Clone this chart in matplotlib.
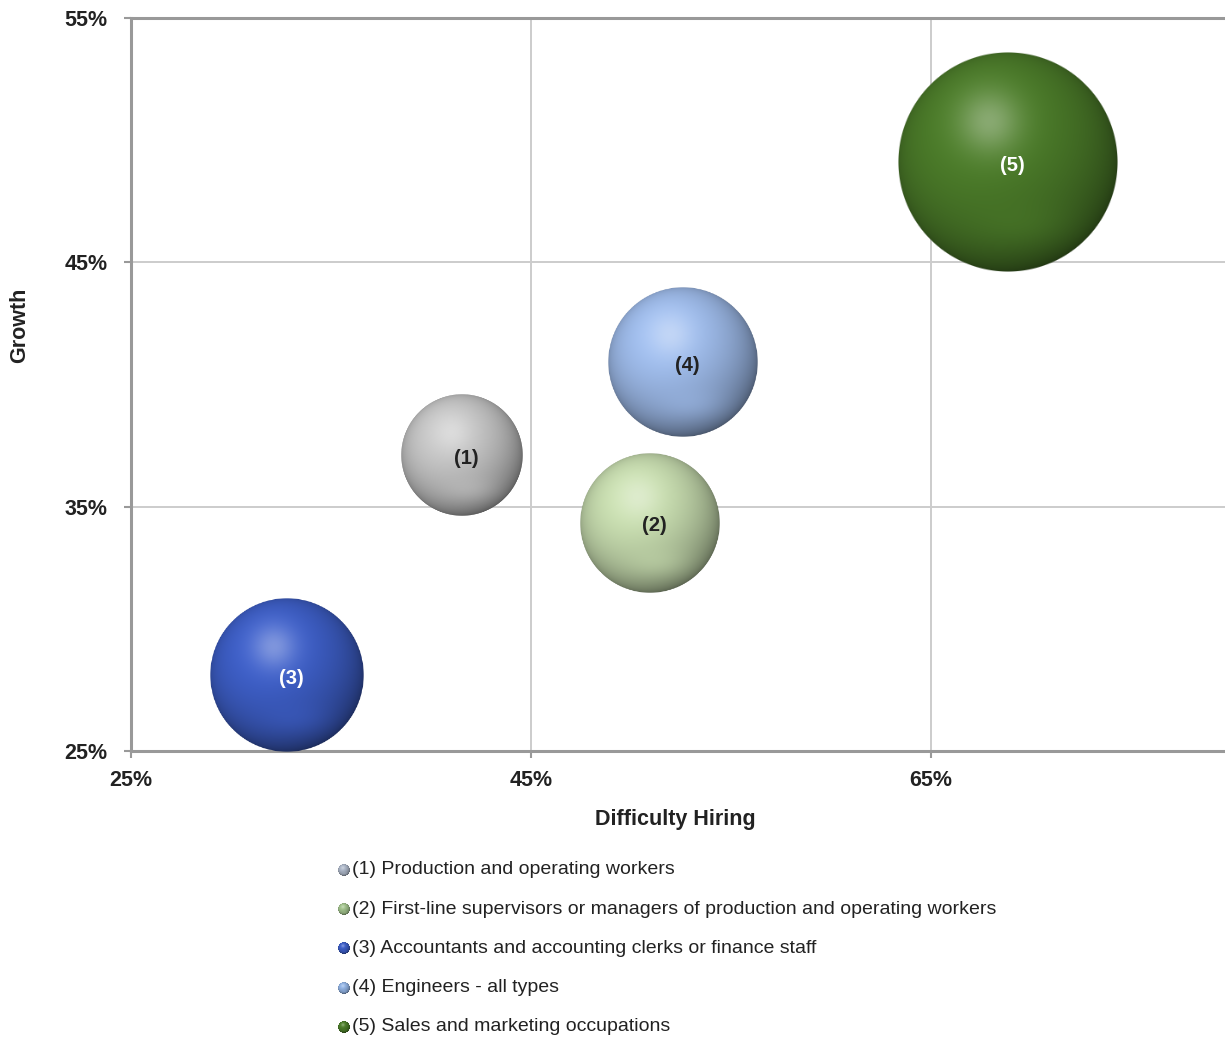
import numpy as np
import matplotlib
matplotlib.use("Agg")
import matplotlib.pyplot as plt
from matplotlib.offsetbox import OffsetImage, AnnotationBbox
from matplotlib.ticker import FuncFormatter, FixedLocator

plt.rcParams['font.family'] = ['Liberation Sans', 'DejaVu Sans']

# ---------------- data ----------------
categories = [
    "(1) Production and operating workers",
    "(2) First-line supervisors or managers of production and operating workers",
    "(3) Accountants and accounting clerks or finance staff",
    "(4) Engineers - all types",
    "(5) Sales and marketing occupations",
]
point_labels = ["(1)", "(2)", "(3)", "(4)", "(5)"]
difficulty_hiring = [41.55, 50.95, 32.8, 52.6, 68.85]   # x, %
growth = [37.1, 34.35, 28.1, 40.9, 49.1]                 # y, %
bubble_size = [3.7, 4.9, 5.9, 5.6, 12.1]                 # relative bubble area
x_ticks = [25, 45, 65]
y_ticks = [25, 35, 45, 55]

# ---------------- style ----------------
base_colors = ["#c4c4c4", "#c6dbae", "#3d5ec6", "#9ebbea", "#4b7b29"]
legend_marker_colors = ["#a9b3c4", "#9fbf8a", "#3b5cc4", "#8fb0e0", "#4b7b29"]
label_colors = ["#222222", "#222222", "#ffffff", "#222222", "#ffffff"]
DPI = 100
W, H = 1225, 1038
AREA_TO_PX2 = 1000.0


def sphere_image(color, n=256):
    c = np.array(matplotlib.colors.to_rgb(color))
    lin = (np.arange(n) + 0.5) / n * 2 - 1
    u, v = np.meshgrid(lin, -lin)
    rr = np.sqrt(u ** 2 + v ** 2)
    z = np.sqrt(np.clip(1 - rr ** 2, 0, 1))
    L = np.array([-0.3, 0.45, 0.84])
    L = L / np.linalg.norm(L)
    d = u * L[0] + v * L[1] + z * L[2]
    shade = 0.66 + 0.4 * d
    rim = 0.78 + 0.22 * np.clip(z, 0, 1) ** 0.25
    col = c[None, None, :] * (shade * rim)[..., None]
    # specular highlight (tinted)
    hl = 1 - (1 - c) * 0.45
    hd2 = (u + 0.17) ** 2 + (v - 0.37) ** 2
    spec = 0.6 * np.exp(-hd2 / (2 * 0.2 ** 2))
    col = col + (hl[None, None, :] - col) * spec[..., None]
    # bottom reflection
    refl = 0.22 * np.exp(-((u - 0.1) / 0.45) ** 2 - ((v + 0.55) / 0.22) ** 2)
    col = col + (c[None, None, :] - col).clip(0) * refl[..., None] * 2
    col = np.clip(col, 0, 1)
    alpha = np.clip((1 - rr) * n / 2.0, 0, 1)
    return np.dstack([col, alpha])


fig = plt.figure(figsize=(W / DPI, H / DPI), dpi=DPI)
ax = fig.add_axes([131 / W, (H - 751) / H, (W - 131) / W, (751 - 18) / H])
ax.set_xlim(25, 25 + (W - 131) / 20.0)
ax.set_ylim(25, 55)

ax.xaxis.set_major_locator(FixedLocator(x_ticks))
ax.yaxis.set_major_locator(FixedLocator(y_ticks))
pct = FuncFormatter(lambda val, pos: f"{val:.0f}%")
ax.xaxis.set_major_formatter(pct)
ax.yaxis.set_major_formatter(pct)
ax.grid(True, color="#cccccc", linewidth=1.4, zorder=0)
ax.set_axisbelow(True)
for side in ["left", "bottom", "top"]:
    ax.spines[side].set_color("#999999")
    ax.spines[side].set_linewidth(2.2)
ax.spines["right"].set_visible(False)
ax.tick_params(axis="both", direction="out", length=5, width=1.5, color="#999999",
               labelsize=15.5, labelcolor="#222222")
ax.tick_params(axis="x", pad=9)
ax.tick_params(axis="y", pad=12)
for lab in ax.get_xticklabels() + ax.get_yticklabels():
    lab.set_fontweight("bold")

# bubbles
for x, y, s, col, lab, lc in zip(difficulty_hiring, growth, bubble_size, base_colors,
                                  point_labels, label_colors):
    r_px = np.sqrt(s * AREA_TO_PX2)
    img = sphere_image(col)
    oi = OffsetImage(img, zoom=(2 * r_px) / img.shape[0] * 72 / DPI, interpolation="bilinear")
    ab = AnnotationBbox(oi, (x, y), xycoords="data", frameon=False, pad=0,
                        box_alignment=(0.5, 0.5), zorder=3)
    ax.add_artist(ab)
    ax.text(x + 0.2, y - 0.12, lab, ha="center", va="center", fontsize=14.5,
            fontweight="bold", color=lc, zorder=4)

# axis titles
fig.text(675 / W, 1 - 820 / H, "Difficulty Hiring", ha="center", va="center",
         fontsize=15.5, fontweight="bold", color="#222222")
fig.text(20 / W, 1 - 325 / H, "Growth", ha="center", va="center", rotation=90,
         fontsize=15.5, fontweight="bold", color="#222222")

# legend
for i, (name, mc) in enumerate(zip(categories, legend_marker_colors)):
    ypix = H - (870 + i * 39.2)
    img = sphere_image(mc, n=64)
    oi = OffsetImage(img, zoom=12 / 64 * 72 / DPI, interpolation="bilinear")
    ab = AnnotationBbox(oi, (344 / W, ypix / H), xycoords="figure fraction",
                        frameon=False, pad=0, box_alignment=(0.5, 0.5))
    fig.add_artist(ab)
    fig.text(352 / W, ypix / H, name, ha="left", va="center", fontsize=14,
             color="#222222")

fig.savefig("out.png", dpi=DPI)
